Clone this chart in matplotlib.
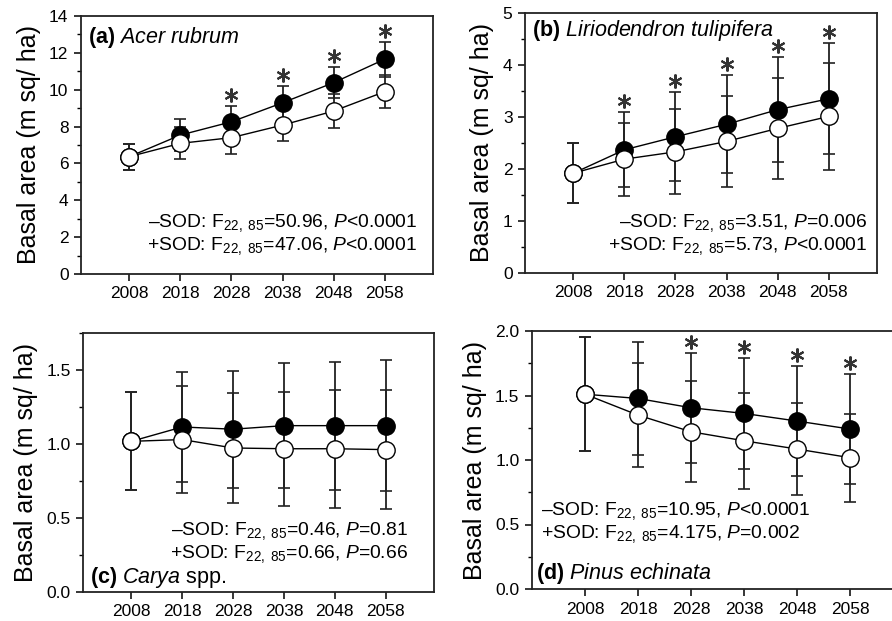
import matplotlib
matplotlib.use("Agg")
import matplotlib.pyplot as plt
import numpy as np
from matplotlib.ticker import MultipleLocator

plt.rcParams["font.family"] = ["Liberation Sans", "DejaVu Sans"]
plt.rcParams["mathtext.fontset"] = "custom"
plt.rcParams["mathtext.rm"] = "Liberation Sans"
plt.rcParams["mathtext.it"] = "Liberation Sans:italic"
plt.rcParams["mathtext.bf"] = "Liberation Sans:bold"

years = [2008, 2018, 2028, 2038, 2048, 2058]

# (a) Acer rubrum
acer_sod = [6.37, 7.54, 8.26, 9.29, 10.38, 11.65]      # filled, +SOD
acer_sod_se = [0.70, 0.85, 0.87, 0.93, 0.85, 0.95]
acer_nosod = [6.37, 7.09, 7.40, 8.08, 8.84, 9.89]      # open, -SOD
acer_nosod_se = [0.70, 0.87, 0.89, 0.85, 0.94, 0.90]
acer_sig = [0, 0, 1, 1, 1, 1]

# (b) Liriodendron tulipifera
lirio_sod = [1.92, 2.37, 2.62, 2.86, 3.14, 3.35]
lirio_sod_se = [0.58, 0.72, 0.86, 0.94, 1.01, 1.07]
lirio_nosod = [1.92, 2.19, 2.33, 2.53, 2.78, 3.01]
lirio_nosod_se = [0.58, 0.70, 0.82, 0.87, 0.97, 1.03]
lirio_sig = [0, 1, 1, 1, 1, 1]

# (c) Carya spp.
carya_sod = [1.018, 1.115, 1.10, 1.124, 1.124, 1.124]
carya_sod_se = [0.33, 0.37, 0.395, 0.42, 0.433, 0.444]
carya_nosod = [1.018, 1.03, 0.973, 0.968, 0.968, 0.962]
carya_nosod_se = [0.33, 0.36, 0.373, 0.385, 0.398, 0.40]
carya_sig = [0, 0, 0, 0, 0, 0]

# (d) Pinus echinata
pinus_sod = [1.51, 1.477, 1.405, 1.361, 1.302, 1.24]
pinus_sod_se = [0.44, 0.438, 0.428, 0.428, 0.425, 0.425]
pinus_nosod = [1.51, 1.348, 1.219, 1.149, 1.085, 1.018]
pinus_nosod_se = [0.44, 0.405, 0.39, 0.37, 0.355, 0.342]
pinus_sig = [0, 0, 1, 1, 1, 1]

stat_a = ["\u2013SOD: F$_{\\mathregular{22,\\ 85}}$=50.96, $\\mathit{P}$<0.0001",
          "+SOD: F$_{\\mathregular{22,\\ 85}}$=47.06, $\\mathit{P}$<0.0001"]
stat_b = ["\u2013SOD: F$_{\\mathregular{22,\\ 85}}$=3.51, $\\mathit{P}$=0.006",
          "+SOD: F$_{\\mathregular{22,\\ 85}}$=5.73, $\\mathit{P}$<0.0001"]
stat_c = ["\u2013SOD: F$_{\\mathregular{22,\\ 85}}$=0.46, $\\mathit{P}$=0.81",
          "+SOD: F$_{\\mathregular{22,\\ 85}}$=0.66, $\\mathit{P}$=0.66"]
stat_d = ["\u2013SOD: F$_{\\mathregular{22,\\ 85}}$=10.95, $\\mathit{P}$<0.0001",
          "+SOD: F$_{\\mathregular{22,\\ 85}}$=4.175, $\\mathit{P}$=0.002"]

fig = plt.figure(figsize=(8.92, 6.21), dpi=100)


def panel(rect, sod, sod_se, nosod, nosod_se, sig, ymax, major, tag, name, extra,
          stats, stat_xy, stat_ha, label_xy, xlim=(1998.5, 2067.5)):
    ax = fig.add_axes(rect)
    x = np.array(years)
    sod = np.array(sod); nosod = np.array(nosod)
    ax.errorbar(x, sod, yerr=sod_se, fmt="none", ecolor="#222222", elinewidth=1.3,
                capsize=4, capthick=1.2, zorder=1)
    ax.errorbar(x, nosod, yerr=nosod_se, fmt="none", ecolor="#222222", elinewidth=1.3,
                capsize=4, capthick=1.2, zorder=1)
    ax.plot(x, sod, "-", color="black", lw=1.0, zorder=2)
    ax.plot(x, nosod, "-", color="black", lw=1.0, zorder=2)
    ax.plot(x, sod, "o", ms=12.5, mfc="black", mec="black", mew=1.0, zorder=3)
    ax.plot(x, nosod, "o", ms=12.5, mfc="white", mec="black", mew=1.0, zorder=4)
    top = sod + np.array(sod_se)
    s = np.array(sig) == 1
    ax.plot(x[s], top[s] + 0.042 * ymax, ls="none", marker=(6, 2, 0), ms=10,
            mew=1.5, color="#333333", zorder=5)

    ax.set_xlim(*xlim)
    ax.set_ylim(0, ymax)
    ax.set_xticks(years)
    ax.yaxis.set_major_locator(MultipleLocator(major))
    ax.yaxis.set_minor_locator(MultipleLocator(major / 2))
    if major < 1:
        ax.set_yticklabels([f"{v:.1f}" for v in ax.get_yticks()])
    ax.tick_params(axis="both", which="major", direction="out", length=5, width=1.1,
                   labelsize=12.5, pad=4)
    ax.tick_params(axis="y", which="minor", direction="out", length=3, width=1.0)
    for sp in ax.spines.values():
        sp.set_linewidth(1.3)
        sp.set_color("#222222")
    ax.set_ylabel("Basal area (m sq/ ha)", fontsize=18, labelpad=6)

    label = "$\\mathbf{(" + tag + ")}$ $\\mathit{" + name.replace(" ", "\\ ") + "}$" + extra
    ax.text(label_xy[0], label_xy[1], label, transform=ax.transAxes,
            fontsize=15.5, ha="left", va="baseline")
    for i, line in enumerate(stats):
        ax.text(stat_xy[0], stat_xy[1] - i * 0.09, line, transform=ax.transAxes,
                fontsize=13.9, ha=stat_ha, va="baseline")
    return ax


W, H = 892.0, 621.0


def rect(l, t, r, b):
    return [l / W, 1 - b / H, (r - l) / W, (b - t) / H]


panel(rect(81, 16, 433, 274), acer_sod, acer_sod_se, acer_nosod, acer_nosod_se,
      acer_sig, 14, 2, "a", "Acer rubrum", "", stat_a, (0.955, 0.183), "right",
      (0.02, 0.895))
panel(rect(525, 13, 877, 273), lirio_sod, lirio_sod_se, lirio_nosod, lirio_nosod_se,
      lirio_sig, 5, 1, "b", "Liriodendron tulipifera", "", stat_b, (0.972, 0.177),
      "right", (0.02, 0.91))
panel(rect(83, 333, 434, 592), carya_sod, carya_sod_se, carya_nosod, carya_nosod_se,
      carya_sig, 1.75, 0.5, "c", "Carya", " spp.", stat_c, (0.926, 0.22), "right",
      (0.02, 0.035))
panel(rect(532, 331, 903, 589), pinus_sod, pinus_sod_se, pinus_nosod, pinus_nosod_se,
      pinus_sig, 2.0, 0.5, "d", "Pinus echinata", "", stat_d, (0.025, 0.287), "left",
      (0.012, 0.04), xlim=(1998.0, 2068.0))

fig.savefig("out.png", dpi=100)
